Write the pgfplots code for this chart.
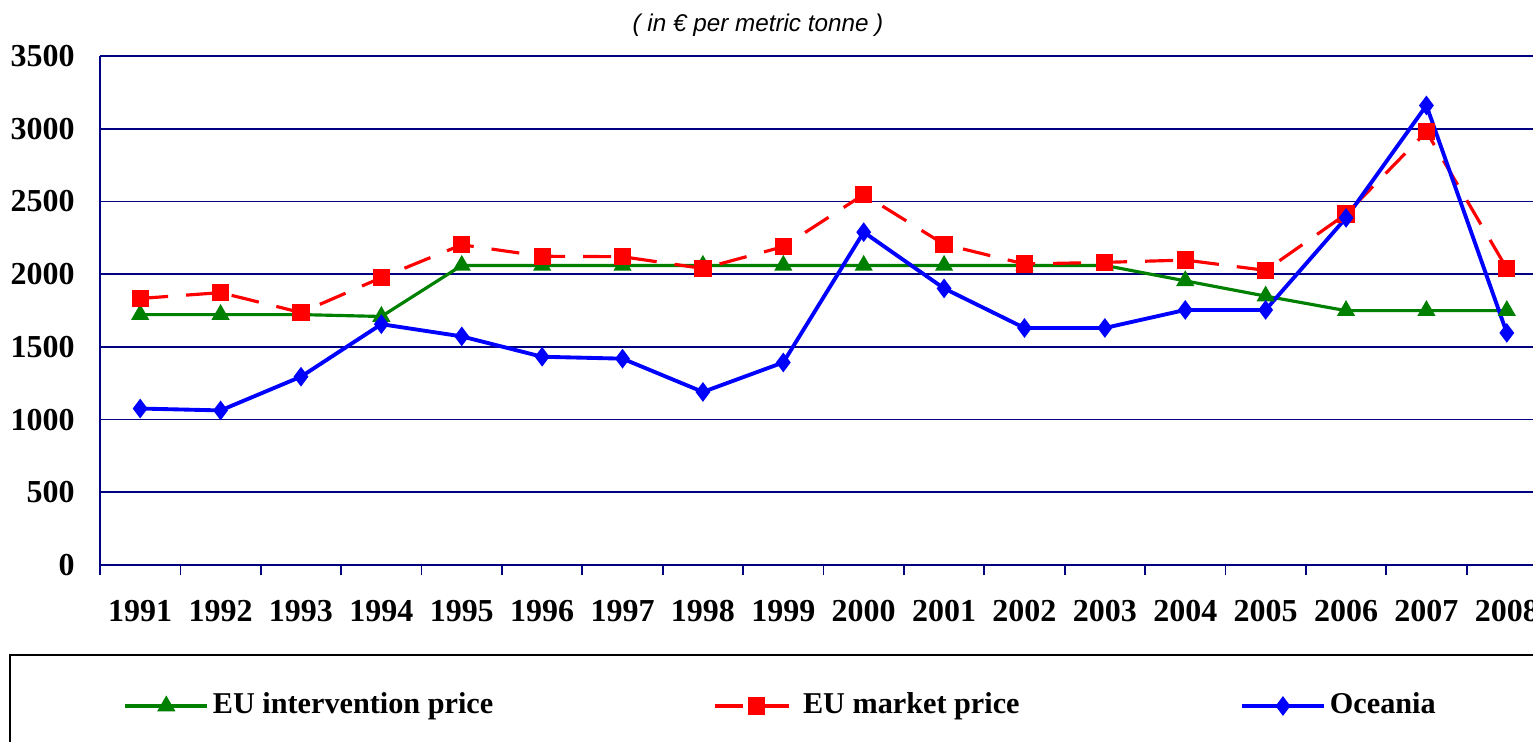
\documentclass[border=0pt]{standalone}
\usepackage{fontspec}
\setmainfont{Liberation Serif}
\newfontfamily\arialfont{Liberation Sans}
\usepackage{pgfplots}
\usepackage{pgfplotstable}
\pgfplotsset{compat=1.18}
\definecolor{gridnavy}{RGB}{0,0,128}
\definecolor{intgreen}{RGB}{0,128,0}

% prices in EUR per tonne, 0 = 1991 ... 17 = 2008
\pgfplotstableread{
idx int  market oce
0   1722 1833   1076
1   1722 1873   1063
2   1722 1736   1295
3   1709 1976   1656
4   2060 2202   1572
5   2060 2123   1432
6   2060 2120   1419
7   2060 2039   1190
8   2060 2189   1393
9   2060 2548   2289
10  2060 2205   1902
11  2060 2070   1630
12  2060 2081   1630
13  1954 2097   1754
14  1849 2026   1754
15  1749 2413   2387
16  1749 2980   3160
17  1749 2039   1596
}\prices

\begin{document}
\begin{tikzpicture}
\useasboundingbox (0,0) rectangle (15.33,7.41);
\clip (0,0) rectangle (15.33,7.41);
\node[font=\arialfont\itshape\fontsize{6.9}{8}\selectfont] at (7.58,7.16) {( in € per metric tonne )};
\draw[black, line width=0.8pt] (0.10,-0.5) rectangle (16,0.86);
\begin{axis}[
    at={(1.00cm,1.76cm)}, anchor=south west,
    scale only axis, width=14.47cm, height=5.09cm,
    xmin=-0.5, xmax=17.5, ymin=0, ymax=3500,
    axis x line*=bottom, axis y line*=left,
    axis line style={gridnavy, line width=0.5pt, -},
    ytick={0,500,...,3500}, ymajorgrids,
    major grid style={gridnavy, line width=0.5pt},
    xtick={0,...,17},
    xticklabels={1991,1992,1993,1994,1995,1996,1997,1998,1999,2000,2001,2002,2003,2004,2005,2006,2007,2008},
    major tick length=0pt,
    minor xtick={-0.5,0.5,...,17.5}, minor tick length=0.1cm, tick align=outside,
    minor tick style={gridnavy, line width=0.5pt},
    tick label style={font=\bfseries\fontsize{9.1}{11}\selectfont},
    /pgf/number format/assume math mode=true,
    /pgf/number format/set thousands separator={},
    yticklabel style={xshift=-0.13cm},
    xticklabel style={yshift=-0.23cm},
    clip=false,
    legend columns=3,
    legend style={at={(0.0159,-0.277)}, anchor=west, draw=none, fill=none,
        inner sep=0pt, /tikz/column sep=0.04cm,
        nodes={inner xsep=0pt, font=\bfseries\fontsize{8.6}{10}\selectfont}},
    legend image code/.code={\draw[mark repeat=2, mark phase=2, #1] plot coordinates {(0cm,0cm) (0.41cm,0cm) (0.82cm,0cm)};},
]
\addplot[intgreen, line width=0.9pt, mark=triangle*, mark size=2.1pt, mark options={solid}]
    table[x=idx, y=int] {\prices};
\addlegendentry{\makebox[4.97cm][l]{EU intervention price}}
\addplot[red, line width=0.9pt, dash pattern=on 0.28cm off 0.18cm, mark=square*, mark size=2pt, mark options={solid}]
    table[x=idx, y=market] {\prices};
\addlegendentry{\makebox[4.33cm][l]{EU market price}}
\addplot[blue, line width=1.1pt, mark=diamond*, mark size=1.9pt, mark options={solid}]
    table[x=idx, y=oce] {\prices};
\addlegendentry{Oceania}
\end{axis}
\end{tikzpicture}
\end{document}
